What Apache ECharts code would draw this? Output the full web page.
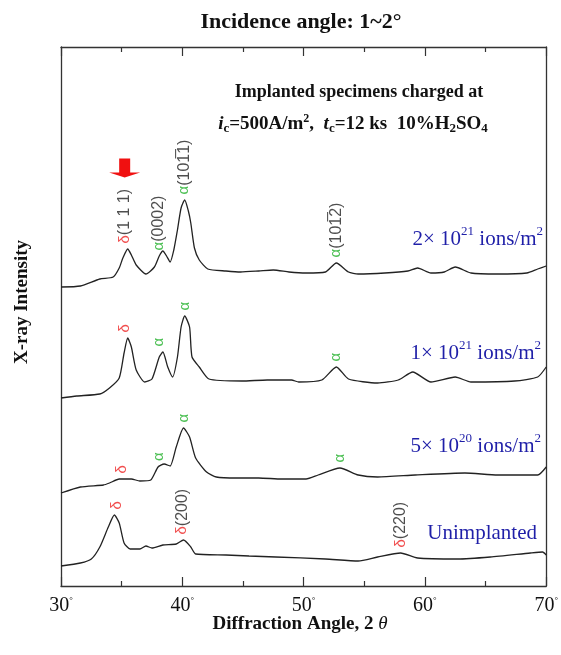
<!DOCTYPE html>
<html>
<head>
<meta charset="utf-8">
<script src="https://cdn.jsdelivr.net/npm/echarts@6/dist/echarts.min.js"></script>
<style>
  html, body { margin: 0; padding: 0; background: #fff; }
  #chart { width: 561px; height: 655px; }
</style>
</head>
<body>
<div id="chart"></div>
<script>
// ---- Data: XRD patterns, [2θ (deg), offset-stacked intensity (a.u.)] ----
const dose2e21 = [
  [30, 299], [31.6, 300], [33.2, 307], [34.3, 309], [34.8, 318], [35.1, 328], [35.5, 337],
  [35.8, 331], [36.2, 321], [37.0, 312], [37.7, 319], [38.1, 330], [38.4, 335], [38.7, 330],
  [39.0, 324], [39.3, 336], [39.6, 356], [39.9, 378], [40.2, 386], [40.5, 375], [40.7, 363],
  [41.0, 338], [41.4, 326], [42.1, 317], [43.6, 315], [44.8, 314], [46.3, 315], [47.5, 316],
  [48.8, 314], [50.2, 313], [51.8, 314], [52.7, 323], [53.7, 314], [54.5, 312], [56.7, 313],
  [58.6, 315], [59.4, 318], [60.5, 313], [61.6, 314], [62.5, 319], [63.8, 313], [66.0, 312],
  [68.4, 313], [69.3, 317], [70, 320]
];
const dose1e21 = [
  [30, 188], [31.3, 190], [33.2, 192], [34.0, 198], [34.8, 208], [35.2, 233], [35.5, 248],
  [35.8, 239], [36.2, 216], [36.9, 204], [37.5, 207], [38.1, 229], [38.4, 234], [38.8, 219],
  [39.2, 209], [39.6, 229], [39.9, 259], [40.2, 270], [40.6, 259], [40.8, 229], [41.4, 219],
  [42.2, 207], [44.9, 205], [47.0, 206], [49.0, 206], [49.6, 204], [51.5, 206], [52.7, 219],
  [53.7, 207], [56.1, 203], [57.8, 206], [59.0, 214], [60.5, 204], [62.5, 209], [63.8, 204],
  [67.4, 205], [69.3, 209], [70, 219]
];
const dose5e20 = [
  [30, 93], [31.6, 99], [33.5, 101], [34.0, 103], [34.8, 107], [35.8, 107], [36.5, 105],
  [37.4, 106], [38.0, 119], [38.5, 122], [39.0, 120], [39.5, 139], [40.1, 158], [40.6, 149],
  [41.1, 128], [42.0, 114], [42.8, 109], [44.5, 108], [46.3, 108], [48.2, 107], [50.2, 107],
  [51.2, 111], [53.0, 118], [54.5, 111], [56.1, 109], [59.2, 111], [63.3, 113], [66.0, 111],
  [69.3, 111], [70, 119]
];
const unimplanted = [
  [30, 20], [31.6, 23], [32.5, 27], [33.2, 39], [33.9, 59], [34.4, 71], [34.8, 63], [35.2, 43],
  [35.7, 37], [36.5, 37], [37.0, 40], [37.5, 38], [38.4, 41], [39.5, 42], [40.1, 46], [40.7, 39],
  [41.1, 32], [43.6, 31], [45.5, 30], [47.7, 29], [51.8, 27], [54.5, 25], [56.1, 29], [58.0, 33],
  [59.4, 28], [62.7, 27], [65.4, 29], [68.7, 33], [69.7, 34], [70, 31]
];

const sampleNames = ['2×10²¹ ions/m²', '1×10²¹ ions/m²', '5×10²⁰ ions/m²', 'Unimplanted'];
const angleTicks = [30, 40, 50, 60, 70];

// Peak assignments per pattern: [2θ, phase, index]
const peaks2e21 = [[35.25, 'δ', '(1 1 1)'], [38.05, 'α', '(0002)'], [40.15, 'α', '(10' + '1\u0305' + '1)'], [52.7, 'α', '(10' + '1\u0305' + '2)']];
const peaks1e21 = [[35.25, 'δ', ''], [38.1, 'α', ''], [40.25, 'α', ''], [52.7, 'α', '']];
const peaks5e20 = [[35.0, 'δ', ''], [38.1, 'α', ''], [40.1, 'α', ''], [53.0, 'α', '']];
const peaksUnimplanted = [[34.6, 'δ', ''], [40.0, 'δ', '(200)'], [58.0, 'δ', '(220)']];

// Marker arrow over the δ(111) reflection: [2θ, level]
const arrowMark = [35.25, 418];

// ---- Helpers ----
function levelAt(data, angle) {
  let best = -Infinity;
  for (let i = 0; i < data.length - 1; i++) {
    const [x0, y0] = data[i], [x1, y1] = data[i + 1];
    if (angle >= x0 && angle <= x1) {
      best = Math.max(best, y0 + (y1 - y0) * (angle - x0) / (x1 - x0));
    }
    if (Math.abs(x0 - angle) <= 0.3) best = Math.max(best, y0);
  }
  return best;
}

const serif = 'Liberation Serif';
const sans = 'Liberation Sans';
const RED = '#ee2222', GREEN = '#22b02a', BLUE = '#1f1fa8', INK = '#222';

const peakRich = {
  d: { color: RED, fontFamily: sans, fontSize: 15 },
  a: { color: GREEN, fontFamily: sans, fontSize: 15 },
  h: { color: INK, fontFamily: sans, fontSize: 16 }
};

function labelSeries(trace, peaks) {
  return {
    type: 'scatter',
    silent: true,
    symbolSize: 1,
    itemStyle: { color: 'rgba(0,0,0,0)' },
    z: 5,
    data: peaks.map(([ang, ph, hkl]) => ({
      value: [ang, levelAt(trace, ang)],
      label: {
        formatter: (ph === 'δ' ? '{d|δ}' : '{a|α}') + (hkl ? '{h|' + hkl + '}' : '')
      }
    })),
    label: {
      show: true,
      position: 'top',
      distance: 5,
      rotate: 90,
      align: 'left',
      verticalAlign: 'middle',
      rich: peakRich
    }
  };
}

function patternSeries(name, data) {
  return {
    name: name,
    type: 'line',
    data: data,
    showSymbol: false,
    smooth: 0.2,
    lineStyle: { color: INK, width: 1.3 },
    silent: true
  };
}

const chart = echarts.init(document.getElementById('chart'), null, { renderer: 'canvas' });

const supRich = {
  n: { fontFamily: serif, fontSize: 21, fill: BLUE },
  s: { fontFamily: serif, fontSize: 13, fill: BLUE, padding: [0, 0, 14, 0] }
};
const DARK = '#111';

const axisStroke = { color: '#333', width: 1.3 };
const tickStroke = { color: '#333', width: 1.2 };

chart.setOption({
  animation: false,
  backgroundColor: '#fff',
  grid: { left: 61, right: 12, top: 47, bottom: 69 },
  xAxis: [
    {
      type: 'value', min: 30, max: 70, interval: 10, position: 'bottom',
      axisLine: { onZero: false, lineStyle: axisStroke },
      axisTick: { inside: true, length: 9, lineStyle: tickStroke },
      minorTick: { show: true, splitNumber: 2, length: 5, lineStyle: tickStroke },
      splitLine: { show: false },
      axisLabel: {
        margin: 10,
        formatter: v => angleTicks.includes(v) ? v + '{g|°}' : '',
        color: DARK, fontFamily: serif, fontSize: 20,
        rich: { g: { fontFamily: serif, fontSize: 9, color: DARK, padding: [0, 0, 10, 0] } }
      }
    },
    {
      type: 'value', min: 30, max: 70, interval: 10, position: 'top',
      axisLine: { show: true, onZero: false, lineStyle: axisStroke },
      axisTick: { show: true, inside: true, length: 9, lineStyle: tickStroke },
      minorTick: { show: true, splitNumber: 2, length: 5, lineStyle: tickStroke },
      splitLine: { show: false },
      axisLabel: { show: false }
    }
  ],
  yAxis: [
    {
      type: 'value', min: 0, max: 539, position: 'left',
      axisLine: { show: true, onZero: false, lineStyle: axisStroke },
      axisTick: { show: false }, axisLabel: { show: false }, splitLine: { show: false }
    },
    {
      type: 'value', min: 0, max: 539, position: 'right',
      axisLine: { show: true, onZero: false, lineStyle: axisStroke },
      axisTick: { show: false }, axisLabel: { show: false }, splitLine: { show: false }
    }
  ],
  series: [
    patternSeries(sampleNames[0], dose2e21),
    patternSeries(sampleNames[1], dose1e21),
    patternSeries(sampleNames[2], dose5e20),
    patternSeries(sampleNames[3], unimplanted),
    labelSeries(dose2e21, peaks2e21),
    labelSeries(dose1e21, peaks1e21),
    labelSeries(dose5e20, peaks5e20),
    labelSeries(unimplanted, peaksUnimplanted),
    {
      type: 'scatter',
      silent: true,
      data: [arrowMark],
      symbol: 'path://M10,0 L21,0 L21,14 L31,14 L15.5,19 L0,14 L10,14 Z',
      symbolSize: [31, 19],
      symbolKeepAspect: false,
      itemStyle: { color: '#f01010', opacity: 1 },
      z: 6
    },
    // partner series so the top / right frame axes are laid out
    { type: 'line', xAxisIndex: 1, yAxisIndex: 1, data: [], silent: true }
  ],
  graphic: [
    {
      type: 'text', x: 301, y: 22,
      style: { text: 'Incidence angle: 1~2°', fontFamily: serif, fontWeight: 'bold', fontSize: 22,
               fill: DARK, align: 'center', verticalAlign: 'middle' }
    },
    {
      type: 'text', x: 359, y: 92,
      style: { text: 'Implanted specimens charged at', fontFamily: serif, fontWeight: 'bold',
               fontSize: 18, fill: DARK, align: 'center', verticalAlign: 'middle' }
    },
    {
      type: 'text', x: 353, y: 124,
      style: {
        text: '{i|i}{b|c}{n|=500A/m}{p|2}{n|,  }{i|t}{b|c}{n|=12 ks  10%H}{b|2}{n|SO}{b|4}',
        align: 'center', verticalAlign: 'middle',
        rich: {
          n: { fontFamily: serif, fontWeight: 'bold', fontSize: 19, fill: DARK },
          i: { fontFamily: serif, fontWeight: 'bold', fontStyle: 'italic', fontSize: 19, fill: DARK },
          b: { fontFamily: serif, fontWeight: 'bold', fontSize: 13, fill: DARK, padding: [9, 0, 0, 0] },
          p: { fontFamily: serif, fontWeight: 'bold', fontSize: 12, fill: DARK, padding: [0, 0, 10, 0] }
        }
      }
    },
    {
      type: 'text', x: 543, y: 239,
      style: { text: '{n|2× 10}{s|21}{n| ions/m}{s|2}', align: 'right', verticalAlign: 'middle', rich: supRich }
    },
    {
      type: 'text', x: 541, y: 353,
      style: { text: '{n|1× 10}{s|21}{n| ions/m}{s|2}', align: 'right', verticalAlign: 'middle', rich: supRich }
    },
    {
      type: 'text', x: 541, y: 446,
      style: { text: '{n|5× 10}{s|20}{n| ions/m}{s|2}', align: 'right', verticalAlign: 'middle', rich: supRich }
    },
    {
      type: 'text', x: 537, y: 533,
      style: { text: 'Unimplanted', fontFamily: serif, fontSize: 21, fill: BLUE, align: 'right', verticalAlign: 'middle' }
    },
    {
      type: 'text', x: 22, y: 302, rotation: Math.PI / 2,
      style: { text: 'X-ray Intensity', fontFamily: serif, fontWeight: 'bold', fontSize: 19,
               fill: DARK, align: 'center', verticalAlign: 'middle' }
    },
    {
      type: 'text', x: 300, y: 624,
      style: {
        text: '{n|Diffraction Angle, 2 }{t|θ}', align: 'center', verticalAlign: 'middle',
        rich: {
          n: { fontFamily: serif, fontWeight: 'bold', fontSize: 19, fill: DARK },
          t: { fontFamily: serif, fontStyle: 'italic', fontSize: 19, fill: DARK }
        }
      }
    }
  ]
});
</script>
</body>
</html>
